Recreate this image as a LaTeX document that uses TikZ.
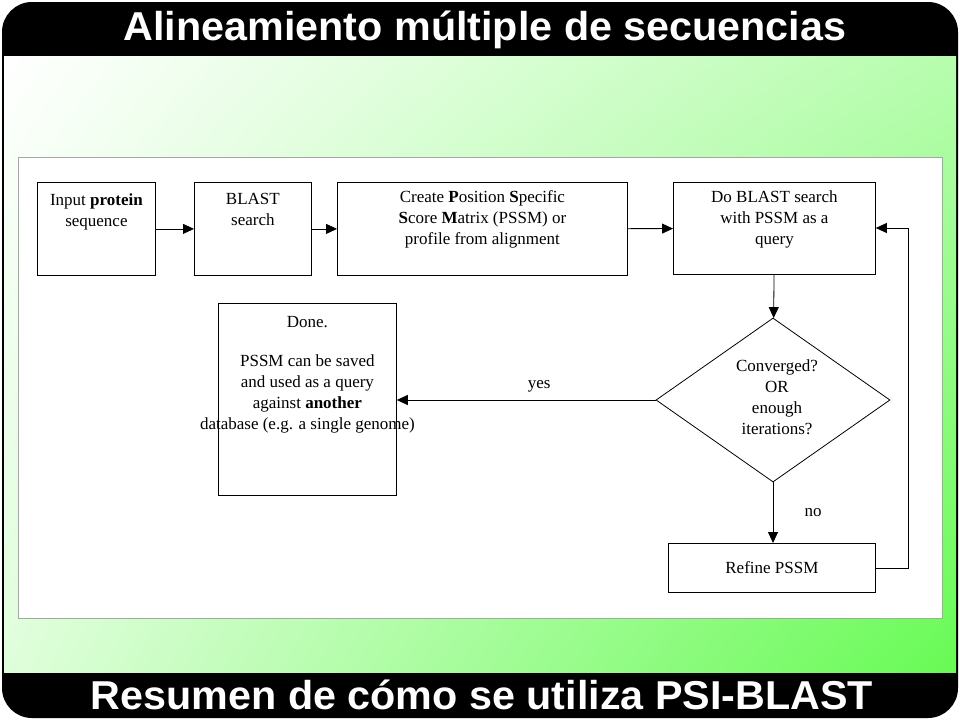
\documentclass[tikz,border=0pt]{standalone}
\usepackage{fontspec}
\setmainfont{Liberation Serif}
\newfontfamily\titlefont{Liberation Sans}
\usetikzlibrary{shapes.geometric,arrows.meta,shadings}
\definecolor{gr}{RGB}{95,250,75}
\begin{document}
\begin{tikzpicture}[x=1pt,y=-1pt,
  box/.style={draw=black,line width=0.8pt,fill=white,align=center,font=\fontsize{17}{21}\selectfont,inner sep=0pt},
  arr/.style={-{Triangle[length=11pt,width=10pt]},line width=0.8pt},
  lbl/.style={font=\fontsize{17}{21}\selectfont}]
\useasboundingbox (0,0) rectangle (960,720);
\fill[white] (0,0) rectangle (960,720);
\fill[black,rounded corners=30pt] (2,2) rectangle (958,718);
\shade[upper left=white,upper right=gr!45,lower left=gr!20,lower right=gr!95] (4,56) rectangle (956,672);
\node[text=white,font=\titlefont\bfseries\fontsize{48}{50}\selectfont] (t1) at (485,30) {\scalebox{0.86}[0.84]{Alineamiento múltiple de secuencias}};
\node[text=white,font=\titlefont\bfseries\fontsize{48}{50}\selectfont] (t2) at (482,695) {\scalebox{0.86}[0.84]{Resumen de cómo se utiliza PSI-BLAST}};
\draw[fill=white,draw=gray!70] (18,157) rectangle (942,618);
\node[box,minimum width=118pt,minimum height=93pt,anchor=north west] (inp) at (37,182) {};
\node[lbl,align=center,anchor=north] at ([yshift=-8pt]inp.north) {Input \textbf{protein}\\sequence};
\node[box,minimum width=117pt,minimum height=93pt,anchor=north west] (bl) at (194,182) {};
\node[lbl,align=center,anchor=north] at ([yshift=-8pt]bl.north) {BLAST\\search};
\node[box,minimum width=290pt,minimum height=93pt,anchor=north west] (cr) at (337,182) {};
\node[lbl,align=center,anchor=north] at ([yshift=-5pt]cr.north) {Create \textbf{P}osition \textbf{S}pecific\\\textbf{S}core \textbf{M}atrix (PSSM) or\\profile from alignment};
\node[box,minimum width=202pt,minimum height=92pt,anchor=north west] (db) at (673,182) {};
\node[lbl,align=center,anchor=north] at ([yshift=-5pt]db.north) {Do BLAST search\\with PSSM as a\\query};
\node[box,diamond,minimum width=234pt,minimum height=164pt] (cv) at (773,400) {};
\node[lbl,align=center] at (777,397) {Converged?\\OR\\enough\\iterations?};
\node[box,minimum width=178pt,minimum height=192pt,anchor=north west] (dn) at (218,303) {};
\node[lbl,align=center,anchor=north] at ([yshift=-10pt]dn.north) {Done.\\[18pt]PSSM can be saved\\and used as a query\\against \textbf{another}\\database (e.g. a single genome)};
\node[box,minimum width=207pt,minimum height=49pt,anchor=north west] (rf) at (668,543) {Refine PSSM};
\draw[arr] (inp) -- (bl);
\draw[arr] (bl) -- (cr);
\draw[arr] (cr) -- (db);
\draw[arr] (db) -- (cv);
\draw[arr] (cv.west) -- (dn.east|-cv.west) node[lbl,pos=0.45,above=4pt] {yes};
\draw[arr] (cv.south) -- (rf.north-|cv.south) node[lbl,pos=0.5,right=28pt] {no};
\coordinate (c1) at (908,568);
\coordinate (c2) at (908,228);
\draw[arr] (rf.east|-c1) -- (c1) -- (c2) -- (db.east|-c2);
\end{tikzpicture}
\end{document}
